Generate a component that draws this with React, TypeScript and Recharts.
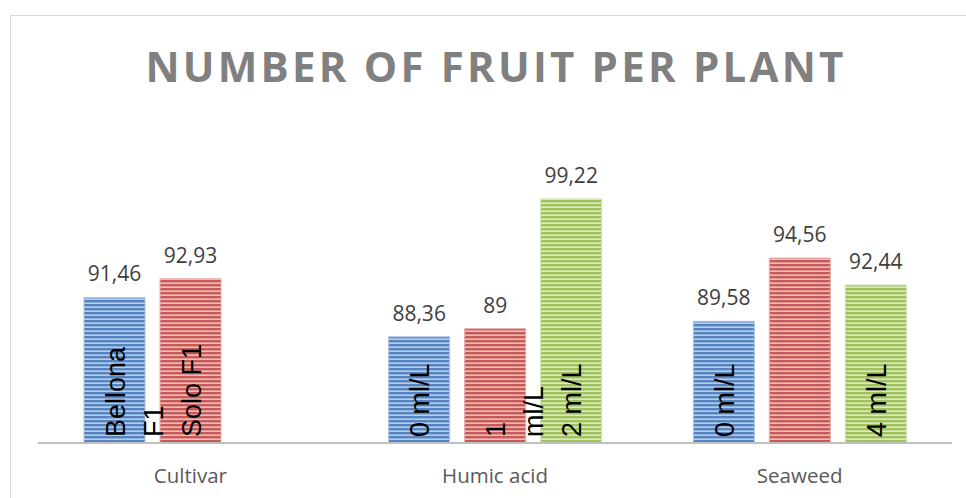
import { BarChart, Bar, XAxis, YAxis, LabelList } from "recharts";

const categories = ["Cultivar", "Humic acid", "Seaweed"];
const series1 = [91.46, 88.36, 89.58];
const series2 = [92.93, 89, 94.56];
const series3 = [null, 99.22, 92.44];
// bar names printed inside the bars ("\n" = wrapped line)
const names1 = ["Bellona\nF1", "0 ml/L", "0 ml/L"];
const names2 = ["Solo F1", "1\nml/L", ""];
const names3 = ["", "2 ml/L", "4 ml/L"];

const data = categories.map((c, i) => ({
  category: c,
  s1: series1[i], s2: series2[i], s3: series3[i],
  n1: names1[i], n2: names2[i], n3: names3[i],
}));

const PATTERNS = [
  { id: "stripeBlue", dark: "#5484c2", light: "#b9cde6" },
  { id: "stripeRed", dark: "#c75a57", light: "#ebbdbc" },
  { id: "stripeGreen", dark: "#9fc25c", light: "#dbe8c2" },
];

const fmt = (v: number) => String(v).replace(".", ",");

// eslint-disable-next-line @typescript-eslint/no-explicit-any
function ValueLabel({ x, y, width, value }: any) {
  if (value == null) return null;
  return (
    <text x={x + width / 2} y={y - 16} textAnchor="middle" fill="#404040"
      fontSize={21} fontFamily="'Open Sans', sans-serif">
      {fmt(value)}
    </text>
  );
}

// eslint-disable-next-line @typescript-eslint/no-explicit-any
function NameLabel({ x, y, width, height, value }: any) {
  if (!value) return null;
  const lines = String(value).split("\n");
  const cx = x + width / 2;
  const by = y + height - 6;
  return (
    <g>
      {lines.map((t, i) => {
        const tx = cx + 10 + i * 38;
        return (
          <text key={i} x={tx} y={by} transform={`rotate(-90, ${tx}, ${by})`}
            fill="#000" fontSize={27} fontFamily="'Liberation Sans', Arial, sans-serif">
            {t}
          </text>
        );
      })}
    </g>
  );
}

// eslint-disable-next-line @typescript-eslint/no-explicit-any
function CategoryTick({ x, y, payload }: any) {
  return (
    <text x={x} y={y + 32} textAnchor="middle" fill="#595959"
      fontSize={20.5} fontFamily="'Open Sans', sans-serif">
      {payload.value}
    </text>
  );
}

export default function App() {
  return (
    <div style={{ position: "absolute", left: 0, top: 0, width: 966, height: 498, background: "#fff", overflow: "hidden" }}>
      <div style={{
        position: "absolute", left: 10, top: 15, width: 980, height: 500,
        borderLeft: "1px solid #d9d9d9", borderTop: "1px solid #d9d9d9",
      }} />
      <div style={{
        position: "absolute", left: 0, top: 45, width: 992, textAlign: "center",
        fontFamily: "'Open Sans', sans-serif", fontWeight: 700, fontSize: 42,
        lineHeight: "42px", letterSpacing: 3.2, color: "#808080",
      }}>
        NUMBER OF FRUIT PER PLANT
      </div>
      <div style={{ position: "absolute", left: 0, top: 0 }}>
        <BarChart width={966} height={498} data={data} barSize={61} barGap={15}
          margin={{ top: 189, right: 14, left: 38, bottom: 0 }}>
          <defs>
            {PATTERNS.map((p) => (
              <pattern key={p.id} id={p.id} width={8} height={4} patternUnits="userSpaceOnUse">
                <rect width={8} height={4} fill={p.dark} />
                <rect y={2.4} width={8} height={1.6} fill={p.light} />
              </pattern>
            ))}
          </defs>
          <XAxis dataKey="category" height={55} tickLine={false} axisLine={{ stroke: "#bfbfbf", strokeWidth: 2 }}
            tick={<CategoryTick />} interval={0} />
          <YAxis hide domain={[80, 100]} allowDataOverflow />
          <Bar dataKey="s1" fill="url(#stripeBlue)" stroke="#a9c1e3" strokeWidth={1} isAnimationActive={false}>
            <LabelList dataKey="s1" content={<ValueLabel />} />
            <LabelList dataKey="n1" content={<NameLabel />} />
          </Bar>
          <Bar dataKey="s2" fill="url(#stripeRed)" stroke="#e3aaa9" strokeWidth={1} isAnimationActive={false}>
            <LabelList dataKey="s2" content={<ValueLabel />} />
            <LabelList dataKey="n2" content={<NameLabel />} />
          </Bar>
          <Bar dataKey="s3" fill="url(#stripeGreen)" stroke="#cfe0b0" strokeWidth={1} isAnimationActive={false}>
            <LabelList dataKey="s3" content={<ValueLabel />} />
            <LabelList dataKey="n3" content={<NameLabel />} />
          </Bar>
        </BarChart>
      </div>
    </div>
  );
}
